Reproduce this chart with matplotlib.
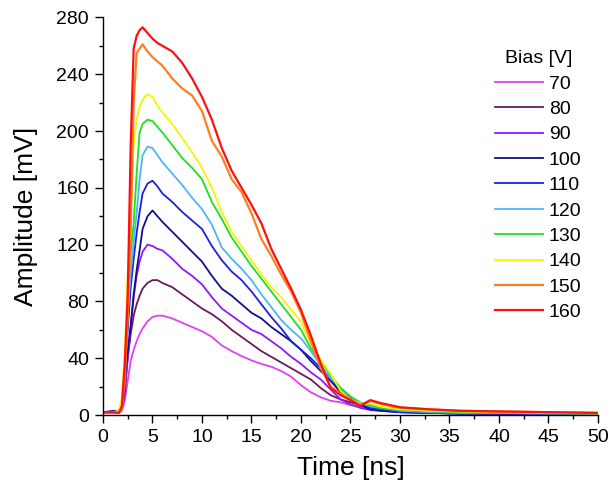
import numpy as np
import matplotlib.pyplot as plt
from matplotlib.ticker import MultipleLocator

plt.rcParams['font.family'] = ['Liberation Sans', 'DejaVu Sans']

# common time grid (ns)
time_ns = [0, 1, 1.6, 1.9, 2.2, 2.5, 2.8, 3.1, 3.4, 3.7, 4.0, 4.5, 5.0, 5.5,
           6, 7, 8, 9, 10, 11, 12, 13, 14, 15, 16, 17, 18, 19, 20, 21, 22,
           23, 24, 25, 26, 27, 28, 30, 33, 36, 40, 45, 50]

# amplitude (mV) for each bias voltage
amp_70 = [1.5, 1.5, 1.5, 3, 10, 24, 38, 46, 52, 57, 61, 66, 69, 70,
          70, 68, 65, 62, 59, 55, 49, 45, 41.5, 38.5, 36, 34, 31, 27, 21, 16, 12.5,
          10, 9, 7, 6, 5, 4.5, 3.5, 2.5, 2, 1.5, 1, 1]
amp_80 = [1.5, 1.5, 2, 4, 15, 40, 57, 70, 78, 84, 89, 93, 95, 95,
          93, 90, 85, 80, 75, 71, 66, 60, 55, 50, 45, 41, 37, 33, 29, 25, 19,
          14, 11, 9, 7, 6, 5, 3, 2, 1.5, 1, 1, 1]
amp_90 = [2, 2, 2, 5, 20, 40, 62, 83, 98, 108, 115, 120, 119, 117,
          116, 110, 103, 98, 92, 83, 75, 70, 65, 60, 57, 52, 47, 41, 36, 30, 25,
          18, 11, 7.5, 5, 3.5, 3, 2, 1.5, 1, 1, 1, 1]
amp_100 = [2, 2, 2.5, 6, 25, 45, 63, 85, 102, 116, 131, 140, 144, 140,
           136, 129, 122, 115, 108, 98, 89, 84, 78, 72, 68, 62, 57, 52, 46, 38, 31,
           24, 16, 11, 7, 4, 3, 2, 1.5, 1, 1, 1, 1]
amp_110 = [2, 3, 3, 6, 28, 60, 90, 110, 128, 143, 156, 163, 165, 161,
           156, 150, 143, 137, 131, 119, 109, 101, 95, 87, 78, 69, 61, 52, 46, 40, 33,
           26, 17, 12, 8, 5, 4, 2, 1.5, 1, 1, 1, 1]
amp_120 = [2, 2, 2, 6, 30, 70, 100, 122, 142, 166, 183, 189, 188, 183,
           178, 170, 162, 153, 145, 134, 118, 110, 103, 95, 85, 76, 67, 60, 54, 45, 35,
           26, 19, 13, 9, 6, 5, 3, 2, 1.5, 1.5, 1, 1]
amp_130 = [2, 2, 2.5, 8, 35, 80, 115, 135, 170, 199, 205, 208, 207, 203,
           199, 190, 181, 174, 166, 150, 138, 125, 115, 105, 96, 87, 78, 69, 60, 47, 38,
           28, 19, 13, 8, 7, 5, 3.5, 2.5, 2, 1.5, 1.2, 1]
amp_140 = [2, 2, 3, 12, 45, 100, 140, 190, 208, 217, 222, 226, 224, 218,
           213, 205, 195, 185, 174, 160, 143, 129, 119, 109, 99, 90, 83, 74, 66, 50, 39,
           29, 17, 11, 8, 8, 6, 4, 3, 2.5, 2, 1.5, 1]
amp_150 = [1.5, 1.5, 1.5, 4, 25, 70, 130, 220, 255, 258, 261, 256, 252, 249,
           246, 237, 230, 225, 214, 193, 182, 166, 157, 142, 124, 112, 99, 87, 72, 52, 33,
           20, 15, 11, 7, 10, 8, 5, 4, 3, 2.5, 2, 1.5]
amp_160 = [2, 2, 1.5, 6, 36, 85, 190, 258, 267, 271, 273, 269, 265, 262,
           260, 256, 248, 237, 224, 208, 188, 172, 160, 148, 135, 117, 103, 89, 74, 56, 36,
           19, 14, 10.5, 6.5, 10.5, 8.5, 5.5, 4, 3, 2.5, 2, 1.5]

bias_labels = ['70', '80', '90', '100', '110', '120', '130', '140', '150', '160']
series = [amp_70, amp_80, amp_90, amp_100, amp_110,
          amp_120, amp_130, amp_140, amp_150, amp_160]
colors = ['#E040F0', '#6A1B5A', '#8C1AFF', '#10108C', '#1F1FE0',
          '#4FB4F7', '#1FE01F', '#F5F500', '#FF7F1F', '#FF1010']

fig = plt.figure(figsize=(6.13, 4.90), dpi=100)
ax = fig.add_axes([0.168, 0.153, 0.8075, 0.8115])

for amp, c, lab in zip(series, colors, bias_labels):
    lw = 1.6 if lab in ('150', '160') else 1.3
    ax.plot(time_ns, amp, color=c, lw=lw, label=lab)

ax.set_xlim(0, 50)
ax.set_ylim(0, 280)
ax.xaxis.set_major_locator(MultipleLocator(5))
ax.xaxis.set_minor_locator(MultipleLocator(2.5))
ax.yaxis.set_major_locator(MultipleLocator(40))
ax.yaxis.set_minor_locator(MultipleLocator(20))

ax.spines['top'].set_visible(False)
ax.spines['right'].set_visible(False)
ax.spines['left'].set_linewidth(1.0)
ax.spines['bottom'].set_linewidth(1.0)
ax.tick_params(which='major', direction='out', length=6, width=1.0,
               labelsize=14, pad=4)
ax.tick_params(which='minor', direction='out', length=3, width=1.0)

ax.set_xlabel('Time [ns]', fontsize=19, labelpad=7)
ax.set_ylabel('Amplitude [mV]', fontsize=19, labelpad=13)

leg = ax.legend(title='Bias [V]', frameon=False, fontsize=14, title_fontsize=14,
                loc='upper left', bbox_to_anchor=(0.777, 0.937),
                handlelength=2.45, handletextpad=0.3, labelspacing=0.4,
                borderaxespad=0)

fig.savefig('out.png', dpi=100)
